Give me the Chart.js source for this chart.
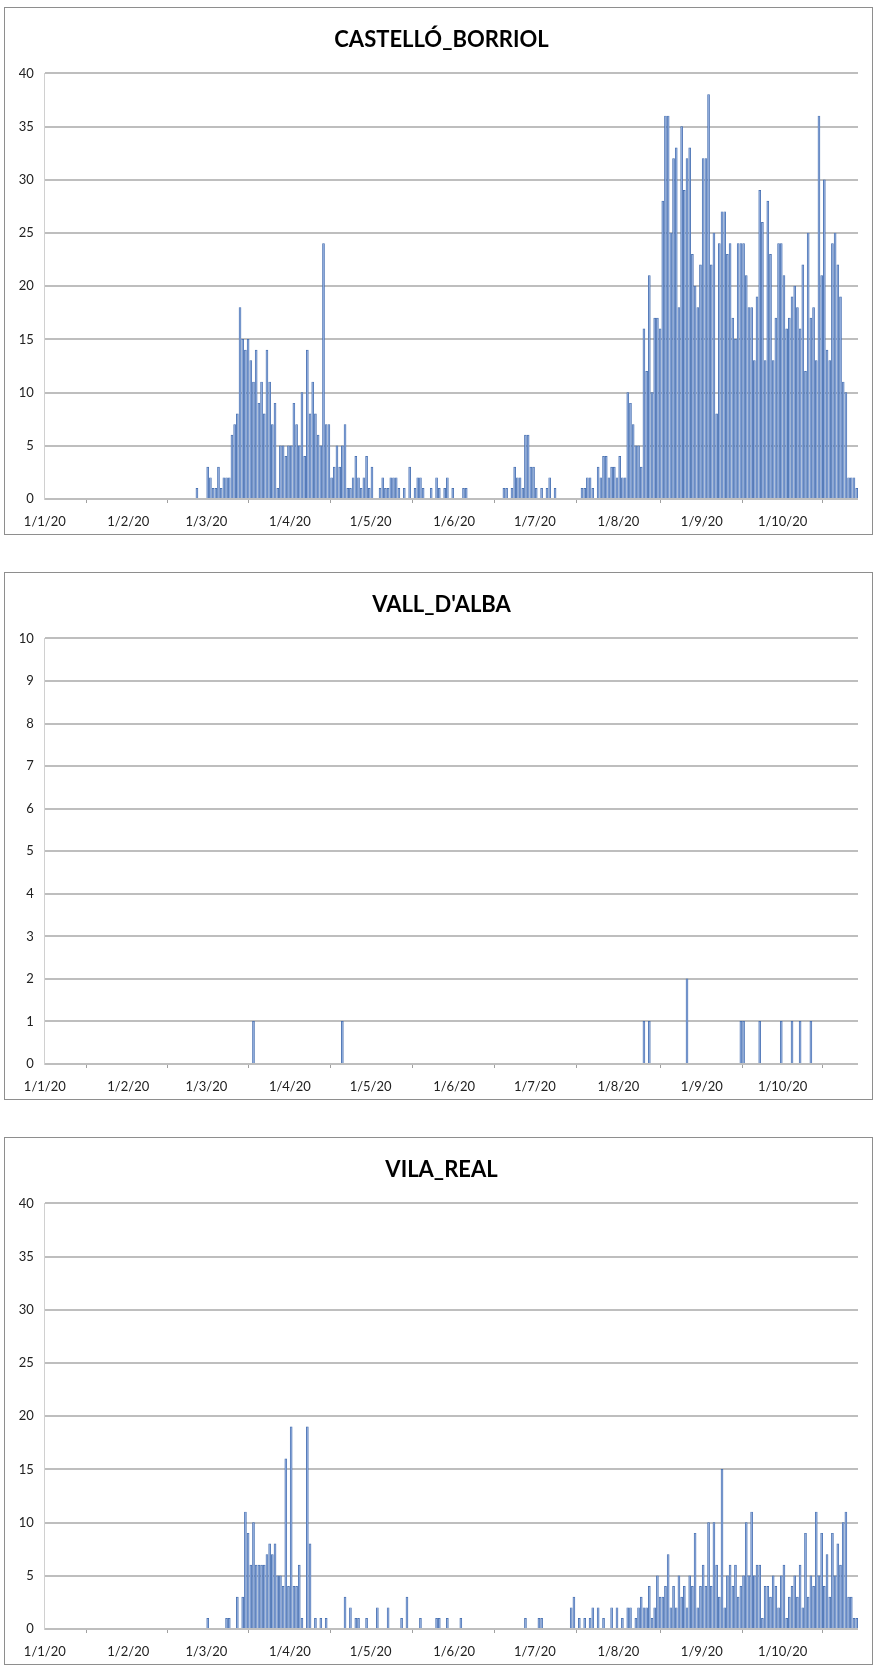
<!DOCTYPE html>
<html>
<head>
<meta charset="utf-8">
<script src="https://cdn.jsdelivr.net/npm/chart.js@4/dist/chart.umd.min.js"></script>
<style>
  html, body { margin: 0; padding: 0; background: #ffffff; }
  .panel {
    position: absolute;
    left: 4px;
    width: 869px;
    height: 528px;
    border: 1px solid #8e8e8e;
    box-sizing: border-box;
    background: #ffffff;
  }
  .panel canvas { display: block; }
</style>
</head>
<body>
<div class="panel" style="top:7px"><canvas id="chartCastello" width="867" height="526"></canvas></div>
<div class="panel" style="top:572px"><canvas id="chartVall" width="867" height="526"></canvas></div>
<div class="panel" style="top:1137px"><canvas id="chartVila" width="867" height="526"></canvas></div>
<script>
// Daily counts, 1 Jan 2020 – 28 Oct 2020, one row per month.
const firstDay = '2020-01-01';

const castelloBorriol = [
  0,0,0,0,0,0,0,0,0,0,0,0,0,0,0,0,0,0,0,0,0,0,0,0,0,0,0,0,0,0,0,
  0,0,0,0,0,0,0,0,0,0,0,0,0,0,0,0,0,0,0,0,0,0,0,0,0,1,0,0,0,
  3,2,1,1,3,1,2,2,2,6,7,8,18,15,14,15,13,11,14,9,11,8,14,11,7,9,1,5,5,4,5,
  5,9,7,5,10,4,14,8,11,8,6,5,24,7,7,2,3,5,3,5,7,1,1,2,4,2,1,2,4,1,
  3,0,0,1,2,1,1,2,2,2,1,0,1,0,3,0,1,2,2,1,0,0,1,0,2,1,0,1,2,0,1,
  0,0,0,1,1,0,0,0,0,0,0,0,0,0,0,0,0,0,1,1,0,1,3,2,2,1,6,6,3,3,
  1,0,1,0,1,2,0,1,0,0,0,0,0,0,0,0,0,1,1,2,2,1,0,3,2,4,4,2,3,3,2,
  4,2,2,10,9,7,5,5,3,16,12,21,10,17,17,16,28,36,36,25,32,33,18,35,29,32,33,23,20,18,22,
  32,32,38,22,25,8,24,27,27,23,24,17,15,24,24,24,21,18,18,13,19,29,26,13,28,23,13,17,24,24,
  21,16,17,19,20,18,16,22,12,25,17,18,13,36,21,30,14,13,24,25,22,19,11,10,2,2,2,1
];

const vallDAlba = [
  0,0,0,0,0,0,0,0,0,0,0,0,0,0,0,0,0,0,0,0,0,0,0,0,0,0,0,0,0,0,0,
  0,0,0,0,0,0,0,0,0,0,0,0,0,0,0,0,0,0,0,0,0,0,0,0,0,0,0,0,0,
  0,0,0,0,0,0,0,0,0,0,0,0,0,0,0,0,0,1,0,0,0,0,0,0,0,0,0,0,0,0,0,
  0,0,0,0,0,0,0,0,0,0,0,0,0,0,0,0,0,0,0,1,0,0,0,0,0,0,0,0,0,0,
  0,0,0,0,0,0,0,0,0,0,0,0,0,0,0,0,0,0,0,0,0,0,0,0,0,0,0,0,0,0,0,
  0,0,0,0,0,0,0,0,0,0,0,0,0,0,0,0,0,0,0,0,0,0,0,0,0,0,0,0,0,0,
  0,0,0,0,0,0,0,0,0,0,0,0,0,0,0,0,0,0,0,0,0,0,0,0,0,0,0,0,0,0,0,
  0,0,0,0,0,0,0,0,0,1,0,1,0,0,0,0,0,0,0,0,0,0,0,0,0,2,0,0,0,0,0,
  0,0,0,0,0,0,0,0,0,0,0,0,0,0,1,1,0,0,0,0,0,1,0,0,0,0,0,0,0,1,
  0,0,0,1,0,0,1,0,0,0,1,0,0,0,0,0,0,0,0,0,0,0,0,0,0,0,0,0
];

const vilaReal = [
  0,0,0,0,0,0,0,0,0,0,0,0,0,0,0,0,0,0,0,0,0,0,0,0,0,0,0,0,0,0,0,
  0,0,0,0,0,0,0,0,0,0,0,0,0,0,0,0,0,0,0,0,0,0,0,0,0,0,0,0,0,
  1,0,0,0,0,0,0,1,1,0,0,3,0,3,11,9,6,10,6,6,6,6,7,8,7,8,5,5,4,16,4,
  19,4,4,6,1,0,19,8,0,1,0,1,0,1,0,0,0,0,0,0,3,0,2,0,1,1,0,0,1,0,
  0,0,2,0,0,0,2,0,0,0,0,1,0,3,0,0,0,0,1,0,0,0,0,0,1,1,0,0,1,0,0,
  0,0,1,0,0,0,0,0,0,0,0,0,0,0,0,0,0,0,0,0,0,0,0,0,0,0,1,0,0,0,
  0,1,1,0,0,0,0,0,0,0,0,0,0,2,3,0,1,0,1,0,1,2,0,2,0,1,0,0,2,0,2,
  0,1,0,2,2,0,1,2,3,2,2,4,1,2,5,3,3,4,7,2,4,2,5,3,4,2,5,4,9,2,4,
  6,4,10,4,10,6,3,15,2,5,6,4,6,3,4,5,10,5,11,5,6,6,1,4,4,3,5,4,2,5,
  6,1,3,4,5,3,6,2,9,3,5,4,11,5,9,4,7,3,9,5,8,6,10,11,3,3,1,1
];

// One date per day of the period.
const dayDates = [];
{
  const d = new Date(firstDay + 'T00:00:00');
  for (let i = 0; i < castelloBorriol.length; i++) {
    dayDates.push(new Date(d.getFullYear(), d.getMonth(), d.getDate() + i));
  }
}
// Axis ticks fall on the first day of each month, labelled d/m/yy.
const monthStartDays = dayDates
  .map((dt, i) => (dt.getDate() === 1 ? i : -1))
  .filter(i => i >= 0);
const monthTickLabels = monthStartDays.map(i => {
  const dt = dayDates[i];
  return dt.getDate() + '/' + (dt.getMonth() + 1) + '/' + String(dt.getFullYear()).slice(2);
});

const FONT = 'Lato, "Open Sans", "DejaVu Sans", sans-serif';

function drawPanel(canvasId, title, values, yMax, yStep) {
  const points = values.map((v, i) => ({ x: i + 0.5, y: v }));
  return new Chart(document.getElementById(canvasId), {
    type: 'bar',
    data: {
      datasets: [{
        data: points,
        backgroundColor: '#8eaadb',
        borderColor: '#3f69ab',
        borderWidth: 0.7,
        barThickness: 2
      }]
    },
    options: {
      responsive: false,
      animation: false,
      devicePixelRatio: 1,
      layout: { padding: { left: 6, right: 0, top: 0, bottom: 0 } },
      plugins: {
        legend: { display: false },
        tooltip: { enabled: false },
        title: {
          display: true,
          text: title,
          color: '#000000',
          font: { family: FONT, size: 22, weight: 'bold', lineHeight: 1.2 },
          padding: { top: 19, bottom: 20 }
        }
      },
      scales: {
        x: {
          type: 'linear',
          min: 0,
          max: values.length,
          offset: false,
          afterBuildTicks: scale => {
            scale.ticks = monthStartDays.map(v => ({ value: v }));
          },
          afterFit: scale => { scale.height = 35; },
          ticks: {
            autoSkip: false,
            maxRotation: 0,
            padding: 11,
            color: '#222222',
            font: { family: FONT, size: 13 },
            callback: value => monthTickLabels[monthStartDays.indexOf(value)]
          },
          grid: {
            drawOnChartArea: false,
            drawTicks: true,
            tickLength: 4,
            color: '#a0a0a0',
            lineWidth: 1
          },
          border: { display: false }
        },
        y: {
          min: 0,
          max: yMax,
          afterFit: scale => { scale.width = 33.8; },
          ticks: {
            stepSize: yStep,
            padding: 11,
            color: '#222222',
            font: { family: FONT, size: 13 }
          },
          grid: {
            drawTicks: false,
            color: '#bebebe',
            lineWidth: 2
          },
          border: { display: true, color: '#d0d0d0', width: 1 }
        },
        // empty strip keeping the plot clear of the right edge
        edge: {
          type: 'linear',
          position: 'right',
          display: true,
          afterFit: scale => { scale.width = 14; },
          ticks: { display: false },
          grid: { display: false, drawTicks: false },
          border: { display: false }
        }
      }
    }
  });
}

drawPanel('chartCastello', 'CASTELLÓ_BORRIOL', castelloBorriol, 40, 5);
drawPanel('chartVall', "VALL_D'ALBA", vallDAlba, 10, 1);
drawPanel('chartVila', 'VILA_REAL', vilaReal, 40, 5);
</script>
</body>
</html>
